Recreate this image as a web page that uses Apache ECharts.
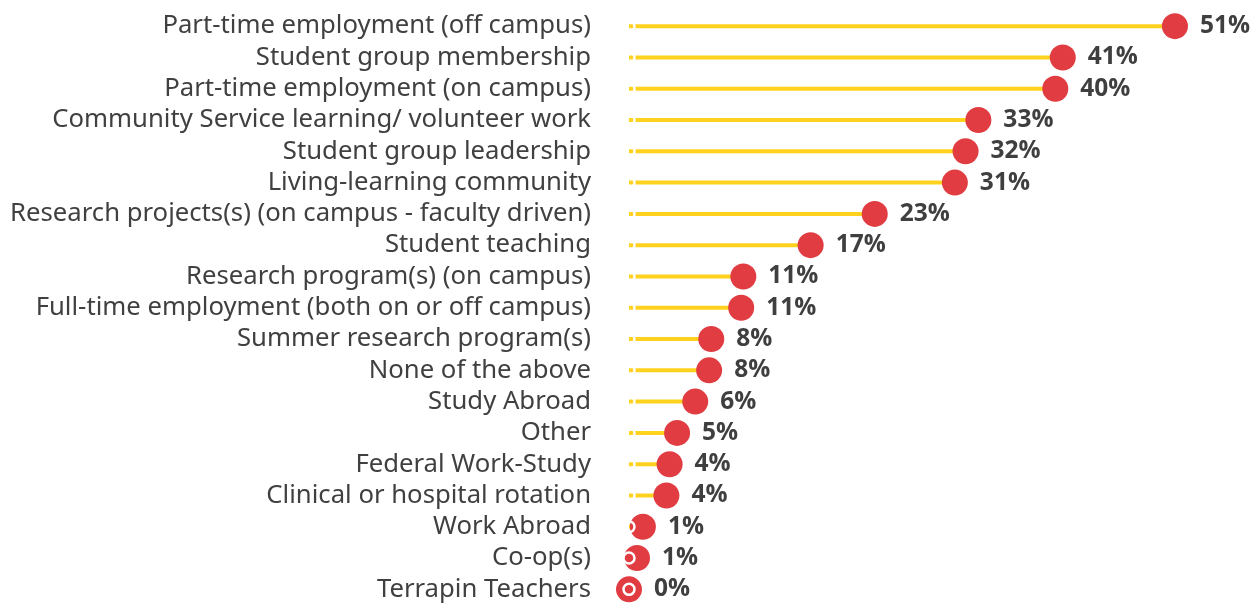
<!DOCTYPE html>
<html>
<head>
<meta charset="utf-8">
<script src="https://cdn.jsdelivr.net/npm/echarts@6/dist/echarts.min.js"></script>
<style>
  html, body { margin: 0; padding: 0; background: #fff; }
  #main { width: 1254px; height: 605px; }
</style>
</head>
<body>
<div id="main"></div>
<script>
// categories, top to bottom
var categories = [
  'Part-time employment (off campus)',
  'Student group membership',
  'Part-time employment (on campus)',
  'Community Service learning/ volunteer work',
  'Student group leadership',
  'Living-learning community',
  'Research projects(s) (on campus - faculty driven)',
  'Student teaching',
  'Research program(s) (on campus)',
  'Full-time employment (both on or off campus)',
  'Summer research program(s)',
  'None of the above',
  'Study Abroad',
  'Other',
  'Federal Work-Study',
  'Clinical or hospital rotation',
  'Work Abroad',
  'Co-op(s)',
  'Terrapin Teachers'
];

// percent (labels are rounded)
var values = [51.1, 40.6, 39.9, 32.7, 31.5, 30.5, 23.0, 17.0, 10.7, 10.5,
              7.7, 7.5, 6.2, 4.5, 3.8, 3.5, 1.3, 0.75, 0];

var zeros = categories.map(function () { return 0; });

var chart = echarts.init(document.getElementById('main'));

var option = {
  backgroundColor: '#ffffff',
  animation: false,
  grid: {
    left: 629,
    top: 10.5,
    width: 609,
    height: 597.5
  },
  xAxis: {
    type: 'value',
    min: 0,
    max: 57,
    show: false
  },
  yAxis: {
    type: 'category',
    data: categories,
    inverse: true,
    axisLine: { show: false },
    axisTick: { show: false },
    splitLine: { show: false },
    axisLabel: {
      interval: 0,
      hideOverlap: false,
      margin: 38,
      color: '#404040',
      fontFamily: 'Noto Sans',
      fontSize: 25.7
    }
  },
  series: [
    {
      name: 'stem',
      type: 'bar',
      data: values,
      barWidth: 4,
      itemStyle: { color: '#FFD21F' },
      z: 1
    },
    {
      name: 'dot',
      type: 'scatter',
      data: values,
      symbol: 'circle',
      symbolSize: 26,
      itemStyle: { color: '#E03C41', opacity: 1 },
      label: {
        show: true,
        position: 'right',
        distance: 12,
        color: '#3f3f3f',
        fontFamily: 'Open Sans',
        fontWeight: 'bold',
        fontSize: 24.5,
        formatter: function (p) {
          return Math.round(p.value) + '%';
        }
      },
      z: 2
    },
    {
      name: 'start',
      type: 'scatter',
      data: zeros,
      symbol: 'circle',
      symbolSize: 11,
      itemStyle: {
        color: 'rgba(0,0,0,0)',
        borderColor: '#ffffff',
        borderWidth: 2.5,
        opacity: 1
      },
      silent: true,
      z: 3
    }
  ]
};

chart.setOption(option);
</script>
</body>
</html>
